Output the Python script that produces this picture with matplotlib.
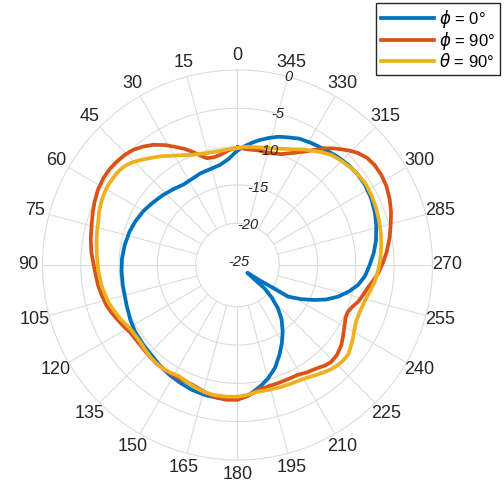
import numpy as np
import matplotlib.pyplot as plt

plt.rcParams['font.family'] = ['Liberation Sans', 'DejaVu Sans']
plt.rcParams['mathtext.fontset'] = 'dejavusans'

# pattern cuts, gain in dB vs angle in degrees
theta_phi0 = [0, 5, 10, 16, 22, 28, 34, 40, 47, 54, 60, 67, 73, 80, 87, 93, 100, 110,
              117, 123, 130, 136, 142, 148, 154, 160, 166, 172, 177, 181, 184, 187, 191,
              195, 200, 205, 209.5, 214, 219, 223, 226.5, 229.2, 229.6, 231.7, 235,
              236.7, 237.9, 241.8, 245.6, 248.7, 252.5, 256.6, 260.6, 265, 270, 275, 280,
              286, 291, 296.5, 302, 307, 312, 317, 323, 329, 334, 338, 342, 346, 350,
              353, 356.5, 360]
gain_phi0 = [-10.5, -11.6, -12.2, -12.45, -12.55, -12.75, -12.8, -12.5, -12.1, -11.7,
             -11.3, -10.95, -10.7, -10.5, -10.35, -10.3, -10.25, -10.05, -9.75, -9.5,
             -9.35, -9.2, -8.9, -8.6, -8.35, -8.1, -7.95, -7.9, -7.9, -8.05, -8.3, -8.75,
             -9.4, -10.1, -11.15, -12.5, -13.7, -14.9, -16.3, -17.7, -19.3, -20.8, -22.4,
             -23.8, -22.2, -20.7, -17.7, -16.0, -14.4, -13.05, -11.7, -10.5, -9.5, -8.75,
             -8.2, -7.6, -7.1, -6.6, -6.25, -5.95, -5.8, -5.8, -5.95, -6.2, -6.55, -6.85,
             -7.1, -7.5, -7.85, -8.35, -8.9, -9.35, -9.9, -10.5]

theta_phi90 = [0, 4.5, 9, 12.5, 16, 19, 21.5, 24.5, 27.5, 31, 35, 38.5, 42, 45.5, 49.5,
               53, 57, 61.5, 66, 70, 74.5, 80, 85, 92, 98, 102.5, 107, 110.5, 114, 118,
               122, 126.5, 131.5, 136, 140.5, 145, 149.5, 154.5, 159.5, 164.5, 169.5, 175,
               180, 184.5, 189, 194, 199, 204, 208.5, 213, 218, 221, 224, 228, 232.5,
               236.5, 240.5, 244, 247, 250, 253, 256.5, 260, 263.5, 267, 271, 275, 280,
               284.5, 289, 293.5, 298, 302, 306, 309.5, 313, 316, 320, 323.3, 326.5,
               329.4, 333.5, 338.5, 344, 350, 355, 360]
gain_phi90 = [-10.1, -10.45, -10.9, -11.05, -10.95, -10.3, -9.6, -8.8, -8.1, -7.2, -6.3,
              -5.7, -5.2, -4.9, -4.7, -4.6, -4.6, -4.75, -5.05, -5.35, -5.7, -6.0, -6.3,
              -6.8, -7.05, -7.3, -7.55, -7.85, -8.2, -8.55, -8.9, -9.0, -9.0, -8.9, -8.8,
              -8.8, -8.8, -8.8, -8.75, -8.4, -8.0, -7.8, -7.85, -8.3, -8.9, -9.1, -9.15,
              -9.15, -9.1, -8.75, -8.4, -8.05, -7.85, -7.95, -8.35, -8.9, -9.4, -9.75,
              -9.8, -9.5, -9.0, -8.6, -8.2, -7.6, -7.0, -6.45, -5.9, -5.3, -4.8, -4.25,
              -3.8, -3.45, -3.3, -3.3, -3.5, -4.0, -4.65, -5.6, -6.45, -7.45, -8.25, -9.1,
              -9.9, -10.25, -10.25, -10.3, -10.1]

theta_th90 = [0, 4.5, 9, 15.5, 19.5, 23.5, 27, 30.5, 34, 37, 40, 43, 45.5, 48, 50.5, 53,
              58, 61.5, 65, 69, 72.5, 76.5, 80.5, 86, 92, 98.5, 102, 106, 110, 114.5,
              117.5, 120.5, 124, 128, 132.5, 137, 140.5, 144, 148, 152.5, 157, 161.5,
              165.5, 169.5, 175, 180, 184.5, 189, 194, 199.5, 205, 210.5, 215, 219, 222,
              225, 228, 231, 234, 237.5, 241, 244.5, 249, 254, 258.5, 263, 267.5, 272,
              277, 282, 287, 292, 297, 302, 306, 310.5, 315, 319.5, 324, 330, 334, 339,
              344, 350, 356.5, 360]
gain_th90 = [-10.2, -10.3, -10.4, -10.3, -10.1, -9.8, -9.35, -8.9, -8.3, -7.8, -7.3,
             -6.75, -6.3, -5.95, -5.75, -5.65, -5.6, -5.7, -5.85, -6.1, -6.4, -6.6, -6.8,
             -7.05, -7.25, -7.5, -7.7, -7.9, -8.25, -8.6, -8.9, -9.15, -9.25, -9.25, -9.1,
             -8.9, -8.8, -8.8, -8.9, -9.05, -8.8, -8.5, -8.3, -8.2, -8.2, -8.25, -8.45,
             -8.7, -8.65, -8.55, -8.45, -8.25, -7.85, -7.45, -7.15, -6.95, -6.85, -6.85,
             -7.2, -7.6, -8.0, -8.3, -8.35, -8.2, -7.85, -7.4, -7.1, -6.8, -6.55, -6.3,
             -6.1, -5.9, -5.75, -5.65, -5.75, -5.95, -6.25, -6.55, -7.2, -8.05, -8.65,
             -9.2, -9.6, -9.85, -10.0, -10.2]

theta_ticks = list(range(0, 360, 15))
r_ticks = [-25, -20, -15, -10, -5, 0]
r_min = -25.45

labels = [r'$\phi$ = 0°', r'$\phi$ = 90°', r'$\theta$ = 90°']
colors = ['#0072BD', '#D95319', '#EDB120']
grid_color = '#dcdcdc'
text_color = '#262626'

fig = plt.figure(figsize=(5.04, 4.88), dpi=100)
ax = fig.add_axes([0.0843, 0.0574, 0.7738, 0.7992], projection='polar')
ax.set_theta_zero_location('N')
ax.set_theta_direction(1)

# grid: circles from -20 dB outward, spokes stop at the -20 dB circle
ax.grid(False)
ring = np.linspace(0, 2 * np.pi, 361)
for v in r_ticks[1:-1]:
    ax.plot(ring, np.full_like(ring, v), color=grid_color, lw=0.8, zorder=1)
for t in theta_ticks:
    ax.plot([np.deg2rad(t)] * 2, [r_ticks[1], r_ticks[-1]], color=grid_color, lw=0.8, zorder=1)
ax.spines['polar'].set_color(grid_color)
ax.spines['polar'].set_linewidth(0.8)

lines = []
for th, g, c, lab in zip([theta_phi0, theta_phi90, theta_th90],
                         [gain_phi0, gain_phi90, gain_th90], colors, labels):
    ln, = ax.plot(np.deg2rad(th), g, color=c, lw=2.7, label=lab, zorder=3,
                  solid_joinstyle='round')
    lines.append(ln)

ax.set_rlim(r_min, 0)
ax.set_xticks(np.deg2rad(theta_ticks))
ax.set_xticklabels([str(t) for t in theta_ticks])
ax.tick_params(axis='x', pad=0, labelsize=13, colors=text_color)
ax.set_yticks(r_ticks)
ax.set_yticklabels([])
for v in r_ticks:
    ax.text(np.deg2rad(345), v, str(v), ha='center', va='center', style='italic',
            fontsize=10.5, color=text_color, zorder=4)

leg = fig.legend(handles=lines, loc='upper right', bbox_to_anchor=(0.992, 0.994),
                 fontsize=12, handlelength=3.2, labelspacing=0.0, borderpad=0.3,
                 handletextpad=0.3, borderaxespad=0, fancybox=False,
                 edgecolor=text_color, framealpha=1)
leg.get_frame().set_linewidth(1.0)

fig.savefig('out.png', dpi=100)
